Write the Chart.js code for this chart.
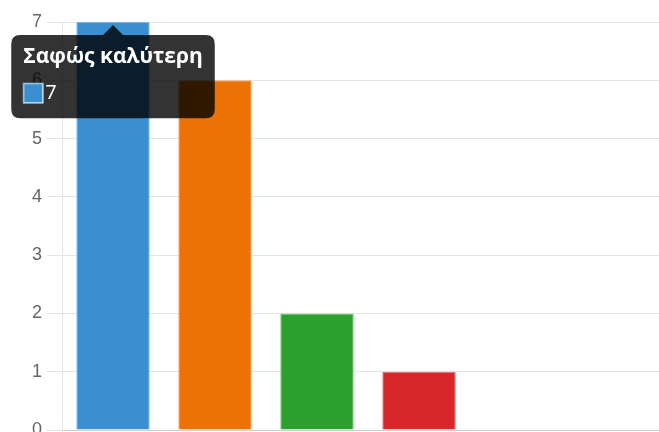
<!DOCTYPE html>
<html>
<head>
<meta charset="utf-8">
<script src="https://cdn.jsdelivr.net/npm/chart.js@4/dist/chart.umd.min.js"></script>
<style>
  html, body { margin: 0; padding: 0; overflow: hidden; background: #fff; }
  #wrap { position: relative; width: 700px; height: 470px; }
</style>
</head>
<body>
<div id="wrap"><canvas id="myChart"></canvas></div>
<script>
// Answers and how many picked each one
var labels = ["Σαφώς καλύτερη", "Λίγο καλύτερη", "Ίδια", "Λίγο χειρότερη", "Σαφώς χειρότερη", "Δεν ξέρω"];
var counts = [7, 6, 2, 1, 0, 0];
var barColors = ["#3a8fd1", "#ec7205", "#2ca02f", "#d7272a", "#9467bd", "#8c564b"];
var barEdges = ["#7db5e2", "#f3a35f", "#75c276", "#e57274", "#b9a0d6", "#b48d85"];
var yTicks = [0, 1, 2, 3, 4, 5, 6, 7];

Chart.defaults.font.family = "'Liberation Sans', Arial, sans-serif";
Chart.defaults.color = '#666';

function renderChart() {
    var ctx = document.getElementById("myChart").getContext('2d');
    var chart = new Chart(ctx, {
        type: 'bar',
        data: {
            labels: labels,
            datasets: [{
                data: counts,
                backgroundColor: barColors,
                hoverBackgroundColor: barColors,
                borderColor: barEdges,
                hoverBorderColor: barEdges,
                borderWidth: 1
            }]
        },
        options: {
            responsive: true,
            maintainAspectRatio: false,
            animation: false,
            layout: { padding: { top: 22, right: 26, bottom: 0, left: 0 } },
            plugins: {
                legend: { display: false },
                tooltip: {
                    backgroundColor: 'rgba(0,0,0,0.8)',
                    titleFont: { family: "'Open Sans', sans-serif", size: 21, weight: 'bold' },
                    bodyFont: { family: "'Open Sans', sans-serif", size: 20 },
                    padding: { top: 9, bottom: 13, left: 12, right: 12 },
                    caretSize: 10,
                    caretPadding: 3,
                    cornerRadius: 9,
                    titleMarginBottom: 12,
                    boxWidth: 20,
                    boxHeight: 20
                }
            },
            scales: {
                x: {
                    grid: { display: false },
                    ticks: { font: { size: 18 }, maxRotation: 0, minRotation: 0, autoSkip: false },
                    afterFit: function (scale) { scale.height = 40; }
                },
                y: {
                    min: 0,
                    max: 7,
                    grid: { color: 'rgba(0,0,0,0.1)', tickLength: 15 },
                    border: { color: 'rgba(0,0,0,0.1)' },
                    afterBuildTicks: function (scale) {
                        scale.ticks = yTicks.map(function (v) { return { value: v }; });
                    },
                    ticks: { font: { size: 18 }, padding: 5 },
                    afterFit: function (scale) { scale.width = 62; }
                }
            }
        }
    });

    // show the tooltip of the first bar, as in the picture
    var active = [{ datasetIndex: 0, index: 0 }];
    chart.setActiveElements(active);
    chart.tooltip.setActiveElements(active, { x: 0, y: 0 });
    chart.update();
}

renderChart();
</script>
</body>
</html>
